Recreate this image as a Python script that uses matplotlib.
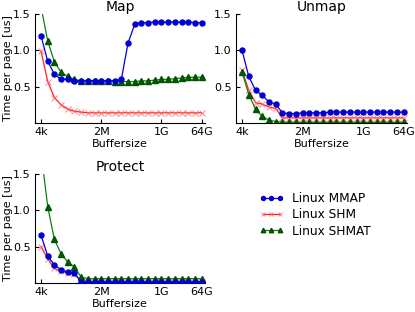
import matplotlib
matplotlib.use("Agg")
import matplotlib.pyplot as plt

# buffer sizes as powers of two: 4k (2^12) .. 64G (2^36)
exponents = list(range(12, 37))
tick_exp = [12, 21, 30, 36]
tick_labels = ["4k", "2M", "1G", "64G"]

# Map
map_mmap = [1.2, 0.85, 0.67, 0.6, 0.6, 0.58, 0.58, 0.58, 0.58, 0.58, 0.58, 0.58, 0.6,
            1.1, 1.36, 1.38, 1.38, 1.39, 1.39, 1.39, 1.39, 1.39, 1.39, 1.38, 1.38]
map_shm = [0.99, 0.57, 0.35, 0.25, 0.19, 0.16, 0.15, 0.14, 0.14, 0.14, 0.14, 0.14, 0.14,
           0.14, 0.14, 0.14, 0.14, 0.14, 0.14, 0.14, 0.14, 0.14, 0.14, 0.14, 0.14]
map_shmat = [1.6, 1.13, 0.84, 0.7, 0.64, 0.6, 0.58, 0.58, 0.58, 0.58, 0.58, 0.57, 0.57,
             0.57, 0.57, 0.58, 0.58, 0.59, 0.6, 0.6, 0.61, 0.62, 0.63, 0.63, 0.63]

# Unmap
unmap_mmap = [1.0, 0.64, 0.45, 0.38, 0.29, 0.26, 0.14, 0.13, 0.13, 0.14, 0.14, 0.14, 0.14,
              0.15, 0.15, 0.15, 0.15, 0.15, 0.15, 0.15, 0.15, 0.15, 0.15, 0.15, 0.15]
unmap_shm = [0.73, 0.45, 0.28, 0.26, 0.22, 0.2, 0.07, 0.07, 0.07, 0.07, 0.07, 0.07, 0.07,
             0.07, 0.07, 0.07, 0.07, 0.07, 0.07, 0.07, 0.07, 0.07, 0.07, 0.07, 0.07]
unmap_shmat = [0.7, 0.39, 0.19, 0.09, 0.04, 0.02, 0.01, 0.01, 0.01, 0.01, 0.01, 0.01, 0.01,
               0.01, 0.01, 0.01, 0.01, 0.01, 0.01, 0.01, 0.01, 0.01, 0.01, 0.01, 0.01]

# Protect
prot_mmap = [0.66, 0.37, 0.25, 0.18, 0.15, 0.14, 0.01, 0.01, 0.01, 0.01, 0.01, 0.01, 0.01,
             0.01, 0.01, 0.01, 0.01, 0.01, 0.01, 0.01, 0.01, 0.01, 0.01, 0.01, 0.01]
prot_shm = [0.5, 0.33, 0.2, 0.16, 0.14, 0.13, 0.02, 0.02, 0.02, 0.02, 0.02, 0.02, 0.02,
            0.02, 0.02, 0.02, 0.02, 0.02, 0.02, 0.02, 0.02, 0.02, 0.02, 0.02, 0.02]
prot_shmat = [1.8, 1.05, 0.6, 0.4, 0.29, 0.22, 0.08, 0.06, 0.06, 0.06, 0.06, 0.06, 0.06,
              0.06, 0.06, 0.06, 0.06, 0.06, 0.06, 0.06, 0.06, 0.06, 0.06, 0.06, 0.06]

labels = ["Linux MMAP", "Linux SHM", "Linux SHMAT"]

W, H = 415, 312
fig = plt.figure(figsize=(W / 100, H / 100), dpi=100)


def px_axes(left, top, right, bottom):
    return fig.add_axes([left / W, (H - bottom) / H, (right - left) / W, (bottom - top) / H])


def draw(ax, title, mmap, shm, shmat, ylabel=True):
    ax.plot(exponents, mmap, color="#0000dd", lw=0.9, marker="o", ms=3.6,
            mec="#0000cc", mfc="#0000dd", label=labels[0], zorder=3)
    ax.plot(exponents, shm, color="#ff2020", lw=0.9, marker="x", ms=4, mew=0.8,
            mec=(1, 0.4, 0.4, 0.7), label=labels[1], zorder=2)
    ax.plot(exponents, shmat, color="#108010", lw=0.9, marker="^", ms=4,
            mec="#005000", mfc="#006000", label=labels[2], zorder=2)
    ax.set_xlim(11.1, 36.5)
    ax.set_ylim(0, 1.5)
    ax.set_xticks(tick_exp)
    ax.set_xticklabels(tick_labels)
    ax.set_yticks([0.5, 1.0, 1.5])
    ax.spines["top"].set_visible(False)
    ax.spines["right"].set_visible(False)
    ax.tick_params(direction="in", labelsize=8, length=3, top=False, right=False, pad=3)
    ax.set_title(title, fontsize=10, pad=2)
    ax.set_xlabel("Buffersize", fontsize=8, labelpad=1)
    if ylabel:
        ax.set_ylabel("Time per page [us]", fontsize=8, labelpad=0.5)


ax1 = px_axes(35, 14, 205, 123)
draw(ax1, "Map", map_mmap, map_shm, map_shmat)
ax2 = px_axes(236, 14, 407, 123)
draw(ax2, "Unmap", unmap_mmap, unmap_shm, unmap_shmat, ylabel=False)
ax3 = px_axes(35, 174, 205, 283)
draw(ax3, "Protect", prot_mmap, prot_shm, prot_shmat)

handles, lbls = ax1.get_legend_handles_labels()
fig.legend(handles, lbls, loc="center", bbox_to_anchor=(315 / W, 1 - 215 / H),
           frameon=False, fontsize=8.7, numpoints=3, handlelength=2.0,
           handletextpad=0.7, labelspacing=0.25, markerscale=0.8)

fig.savefig("out.png", dpi=100)
